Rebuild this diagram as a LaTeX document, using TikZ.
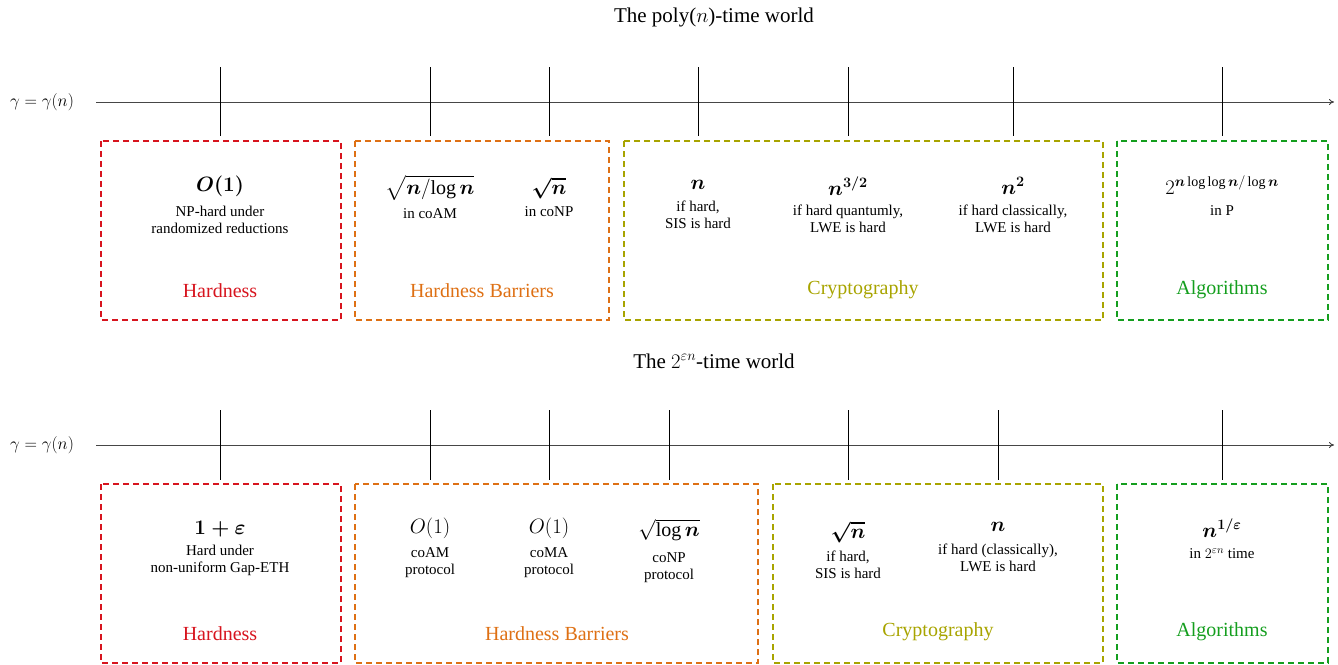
\documentclass[tikz,border=0pt]{standalone}
\usepackage{amsmath}
\usepackage{bm}
\usepackage{fontspec}
\setmainfont{Liberation Serif}
\usetikzlibrary{arrows.meta}
\definecolor{cred}{RGB}{215,20,30}
\definecolor{corange}{RGB}{222,112,20}
\definecolor{colive}{RGB}{168,164,0}
\definecolor{cgreen}{RGB}{20,158,30}
\definecolor{axisgray}{RGB}{70,70,70}
\tikzset{
  descr/.style={font=\fontsize{15}{17}\selectfont, align=center, inner sep=0pt},
  mathval/.style={font=\fontsize{20}{23}\selectfont, inner sep=0pt},
  catlabel/.style={font=\fontsize{20}{23}\selectfont, inner sep=0pt},
  titlelabel/.style={font=\fontsize{21}{24}\selectfont, inner sep=0pt},
  gammalabel/.style={font=\fontsize{16}{19}\selectfont, inner sep=0pt},
  regionbox/.style={draw=#1, line width=1.8pt, dash pattern=on 6pt off 4pt},
  ticmark/.style={draw=black, line width=0.6pt},
  axisline/.style={draw=axisgray, line width=1pt, -{To[length=5pt,width=6pt]}},
}
\begin{document}
\begin{tikzpicture}[x=1pt,y=-1pt]
\useasboundingbox (0,0) rectangle (1338,664);

% ================= Row 1 =================
\node[titlelabel] (t1) at (714,17) {The poly($n$)-time world};
\node[gammalabel] (g1) at (42,102) {$\gamma=\gamma(n)$};
\coordinate (a1s) at (96,102);
\coordinate (a1e) at (1334,102);
\draw[axisline] (a1s) -- (a1e);
\foreach \x [count=\i] in {220,430,549,698,848,1013,1222}{
  \coordinate (up\i) at (\x,67);
  \coordinate (dn\i) at (\x,136);
  \draw[ticmark] (up\i) -- (dn\i);
}
\draw[regionbox=cred] (101,141) rectangle (341,320);
\draw[regionbox=corange] (355,141) rectangle (609,320);
\draw[regionbox=colive] (624,141) rectangle (1103,320);
\draw[regionbox=cgreen] (1117,141) rectangle (1328,320);

\node[mathval] (v11) at (220,186) {{\boldmath$O(1)$}};
\node[descr] (d11) at (220,220) {NP-hard under\\randomized reductions};
\node[catlabel, text=cred] (c11) at (220,291) {Hardness};

\node[mathval] (v12) at (430,188) {$\sqrt{\bm{n}/\!\log \bm{n}}$};
\node[descr] (d12) at (430,214) {in coAM};
\node[mathval] (v13) at (549,188) {{\boldmath$\sqrt{n}$}};
\node[descr] (d13) at (549,212) {in coNP};
\node[catlabel, text=corange] (c12) at (482,291) {Hardness Barriers};

\node[mathval] (v14) at (698,185) {{\boldmath$n$}};
\node[descr] (d14) at (698,215) {if hard,\\SIS is hard};
\node[mathval] (v15) at (848,186) {{\boldmath$n^{3/2}$}};
\node[descr] (d15) at (848,219) {if hard quantumly,\\LWE is hard};
\node[mathval] (v16) at (1013,186) {{\boldmath$n^{2}$}};
\node[descr] (d16) at (1013,219) {if hard classically,\\LWE is hard};
\node[catlabel, text=colive] (c13) at (863,290) {Cryptography};

\node[mathval] (v17) at (1222,185) {$2^{\bm{n}\log\log \bm{n}/\log \bm{n}}$};
\node[descr] (d17) at (1222,211) {in P};
\node[catlabel, text=cgreen] (c14) at (1222,290) {Algorithms};

% ================= Row 2 =================
\node[titlelabel] (t2) at (714,361) {The $2^{\varepsilon n}$-time world};
\node[gammalabel] (g2) at (42,445) {$\gamma=\gamma(n)$};
\coordinate (a2s) at (96,445);
\coordinate (a2e) at (1334,445);
\draw[axisline] (a2s) -- (a2e);
\foreach \x [count=\i] in {220,430,549,669,848,998,1222}{
  \coordinate (pu\i) at (\x,410);
  \coordinate (pd\i) at (\x,480);
  \draw[ticmark] (pu\i) -- (pd\i);
}
\draw[regionbox=cred] (101,484) rectangle (341,663);
\draw[regionbox=corange] (355,484) rectangle (758,663);
\draw[regionbox=colive] (773,484) rectangle (1103,663);
\draw[regionbox=cgreen] (1117,484) rectangle (1328,663);

\node[mathval] (w11) at (220,529) {{\boldmath$1+\varepsilon$}};
\node[descr] (e11) at (220,560) {Hard under\\non-uniform Gap-ETH};
\node[catlabel, text=cred] (k11) at (220,634) {Hardness};

\node[mathval] (w12) at (430,528) {$O(1)$};
\node[descr] (e12) at (430,563) {coAM\\protocol};
\node[mathval] (w13) at (549,528) {$O(1)$};
\node[descr] (e13) at (549,563) {coMA\\protocol};
\node[mathval] (w14) at (669,530) {$\sqrt{\log \bm{n}}$};
\node[descr] (e14) at (669,568) {coNP\\protocol};
\node[catlabel, text=corange] (k12) at (557,634) {Hardness Barriers};

\node[mathval] (w15) at (848,532) {{\boldmath$\sqrt{n}$}};
\node[descr] (e15) at (848,565) {if hard,\\SIS is hard};
\node[mathval] (w16) at (998,527) {{\boldmath$n$}};
\node[descr] (e16) at (998,558) {if hard (classically),\\LWE is hard};
\node[catlabel, text=colive] (k13) at (938,632) {Cryptography};

\node[mathval] (w17) at (1222,528) {{\boldmath$n^{1/\varepsilon}$}};
\node[descr] (e17) at (1222,554) {in $2^{\varepsilon n}$ time};
\node[catlabel, text=cgreen] (k14) at (1222,632) {Algorithms};
\end{tikzpicture}
\end{document}
